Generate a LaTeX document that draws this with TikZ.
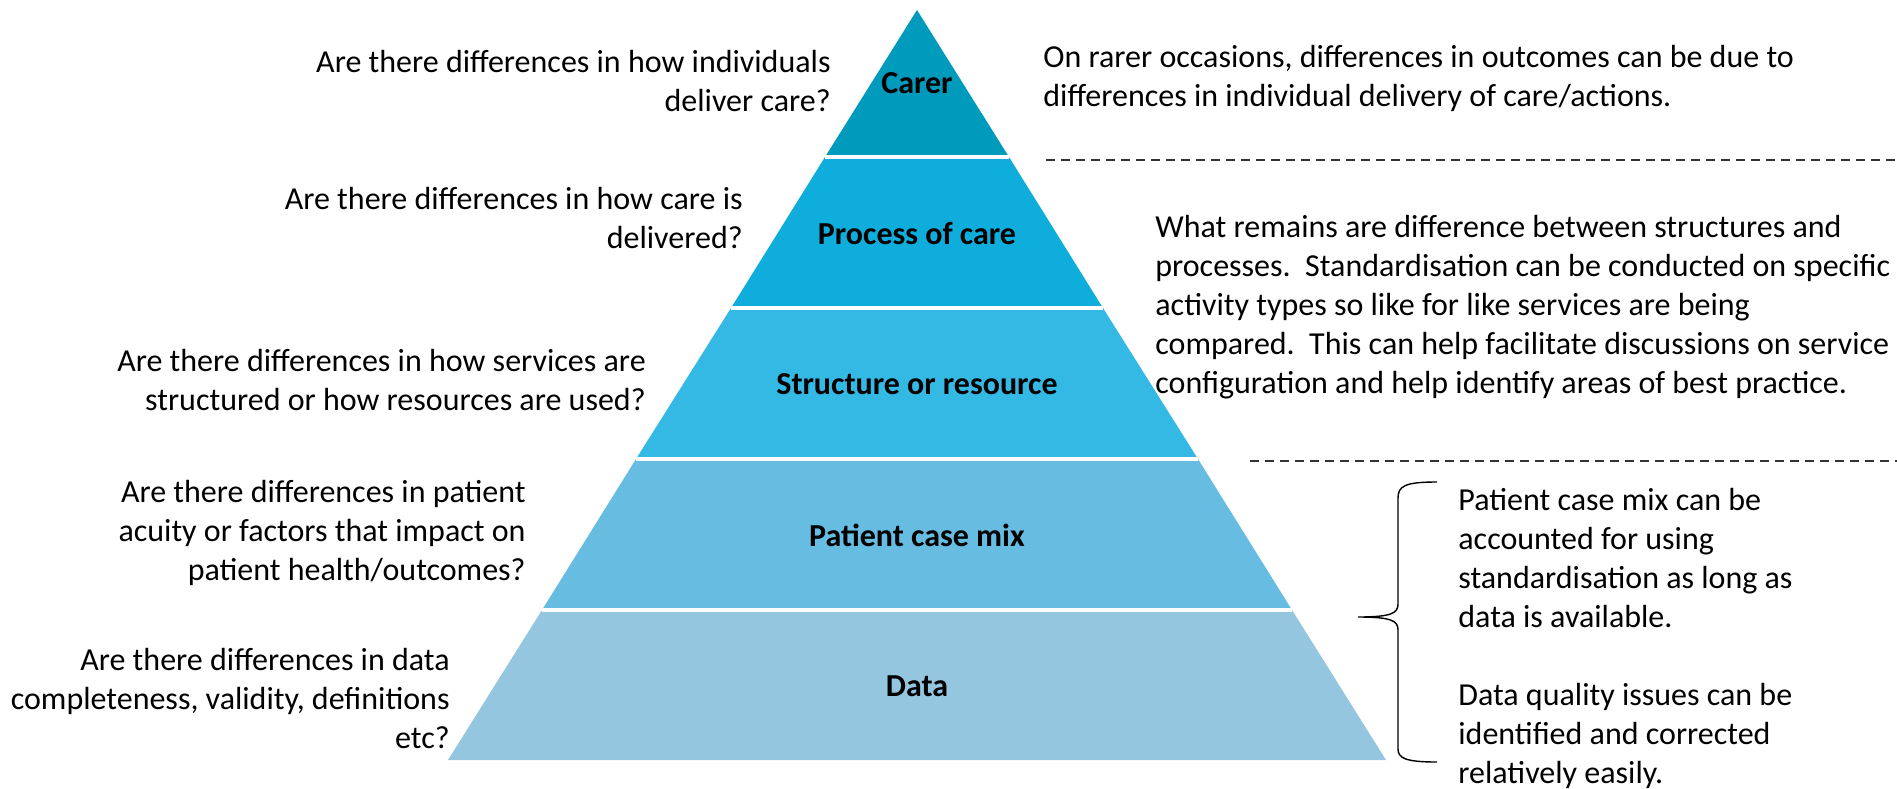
\documentclass[tikz,border=0pt]{standalone}
\usepackage{fontspec}
\setmainfont{Carlito}
\usetikzlibrary{positioning}
\definecolor{carerblue}{RGB}{0,154,189}
\definecolor{processblue}{RGB}{14,173,219}
\definecolor{structblue}{RGB}{52,184,228}
\definecolor{mixblue}{RGB}{102,189,225}
\definecolor{datablue}{RGB}{149,198,223}
\tikzset{
x=0.5pt, y=-0.5pt, % one unit is one pixel of the original slide
level/.style={font=\fontsize{16}{19.5}\selectfont\bfseries}, % labels inside the pyramid
question/.style={align=right, anchor=east, inner sep=0pt}, % questions on the left
note/.style={align=left, anchor=west, inner sep=0pt}, % remarks on the right
gap/.style={white, line width=2pt}, % white lines between the bands
divider/.style={dash pattern=on 4.5pt off 3pt, line width=0.6pt, black!80}, % dashed separators
}
\begin{document}
\begin{tikzpicture}[font=\fontsize{16}{19.5}\selectfont]
\useasboundingbox (0,0) rectangle (1897,788);
% corners of the pyramid bands
\coordinate (top) at (917,10);
\coordinate (l1) at (825,157);  \coordinate (r1) at (1009,157);
\coordinate (l2) at (731,308);  \coordinate (r2) at (1103,308);
\coordinate (l3) at (636,459);  \coordinate (r3) at (1198,459);
\coordinate (l4) at (542,610);  \coordinate (r4) at (1292,610);
\coordinate (l5) at (448,760);  \coordinate (r5) at (1386,760);
\fill[carerblue] (top) -- (l1) -- (r1) -- cycle;
\fill[processblue] (l1) -- (l2) -- (r2) -- (r1) -- cycle;
\fill[structblue] (l2) -- (l3) -- (r3) -- (r2) -- cycle;
\fill[mixblue] (l3) -- (l4) -- (r4) -- (r3) -- cycle;
\fill[datablue] (l4) -- (l5) -- (r5) -- (r4) -- cycle;
\draw[gap] (l1) -- (r1) (l2) -- (r2) (l3) -- (r3) (l4) -- (r4);
% band labels
\node[level] (carer) at (917,83) {Carer};
\node[level] (process) at (917,233) {Process of care};
\node[level] (structure) at (917,384) {Structure or resource};
\node[level] (mix) at (917,535) {Patient case mix};
\node[level] (data) at (917,686) {Data};
% questions
\node[question] (q1) at (831,81) {Are there differences in how individuals\\deliver care?};
\node[question] (q2) at (743,218) {Are there differences in how care is\\delivered?};
\node[question] (q3) at (646,380) {Are there differences in how services are\\structured or how resources are used?};
\node[question] (q4) at (526,533) {Are there differences in patient\\acuity or factors that impact on\\patient health/outcomes?};
\node[question] (q5) at (450,698) {Are there differences in data\\completeness, validity, definitions\\etc?};
% remarks
\node[note] (n1) at (1043,78) {On rarer occasions, differences in outcomes can be due to\\differences in individual delivery of care/actions.};
\node[note] (n2) at (1155,307) {What remains are difference between structures and\\processes.\ \ Standardisation can be conducted on specific\\activity types so like for like services are being\\compared.\ \ This can help facilitate discussions on service\\configuration and help identify areas of best practice.};
\node[note] (n3) at (1458,638) {Patient case mix can be\\accounted for using\\standardisation as long as\\data is available.\\[19.5pt]Data quality issues can be\\identified and corrected\\relatively easily.};
% dashed separators
\coordinate (d1) at (1046,160); \coordinate (e1) at (1897,160);
\coordinate (d2) at (1250,461); \coordinate (e2) at (1897,461);
\draw[divider] (d1) -- (e1);
\draw[divider] (d2) -- (e2);
% brace
\draw[line width=0.7pt] (1437,482) .. controls (1405,482) and (1398,486) .. (1398,498)
  -- (1398,604) .. controls (1398,613) and (1392,617) .. (1358,617)
  .. controls (1392,617) and (1398,621) .. (1398,630)
  -- (1398,749) .. controls (1398,758) and (1405,762) .. (1437,762);
\end{tikzpicture}
\end{document}
